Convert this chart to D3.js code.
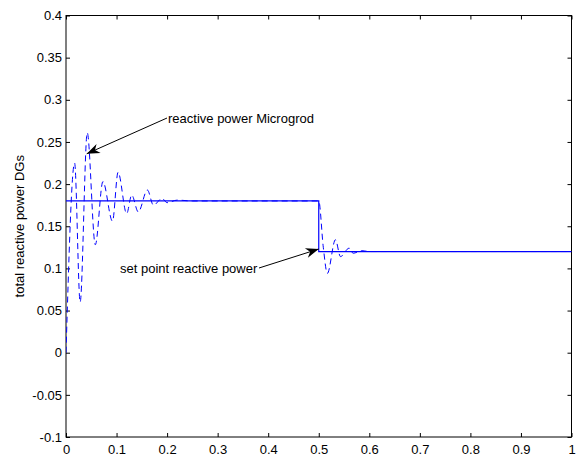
<!DOCTYPE html>
<html>
<head>
<meta charset="utf-8">
<script src="https://cdn.jsdelivr.net/npm/d3@7"></script>
<style>
  html, body { margin: 0; padding: 0; background: #fff; }
  svg { display: block; font-family: Arial, "Liberation Sans", sans-serif; }
</style>
</head>
<body>
<svg id="chart" width="576" height="459"></svg>
<script>
// ---- data ----
const xTicks = [0, 0.1, 0.2, 0.3, 0.4, 0.5, 0.6, 0.7, 0.8, 0.9, 1];
const yTicks = [-0.1, -0.05, 0, 0.05, 0.1, 0.15, 0.2, 0.25, 0.3, 0.35, 0.4];
const xTickLabels = ["0", "0.1", "0.2", "0.3", "0.4", "0.5", "0.6", "0.7", "0.8", "0.9", "1"];
const yTickLabels = ["-0.1", "-0.05", "0", "0.05", "0.1", "0.15", "0.2", "0.25", "0.3", "0.35", "0.4"];

const setpointT = [0, 0.5, 0.5, 1];
const setpointQ = [0.18, 0.18, 0.12, 0.12];

const measuredT = [0, 0.017, 0.028, 0.042, 0.058, 0.073, 0.092, 0.103, 0.120, 0.130, 0.143, 0.161, 0.173, 0.190, 0.200, 0.220, 0.250, 0.300, 0.400, 0.500, 0.509, 0.517, 0.533, 0.543, 0.560, 0.568, 0.585, 0.600, 0.700, 1.0];
const measuredQ = [0, 0.225, 0.060, 0.261, 0.128, 0.203, 0.156, 0.214, 0.165, 0.187, 0.167, 0.193, 0.175, 0.183, 0.178, 0.181, 0.180, 0.180, 0.180, 0.180, 0.125, 0.094, 0.134, 0.114, 0.124, 0.118, 0.121, 0.120, 0.120, 0.120];

const yLabel = "total reactive power DGs";
const annotations = [
  { text: "reactive power Microgrod", tx: 168, ty: 118, from: [167, 118], to: [0.041, 0.236] },
  { text: "set point reactive power", tx: 120, ty: 268, from: [259, 268], to: [0.5, 0.123] }
];

// ---- layout ----
const svg = d3.select("#chart");
const x0 = 66, x1 = 571.5, y0 = 15.5, y1 = 437;
const x = d3.scaleLinear().domain([0, 1]).range([x0, x1]);
const y = d3.scaleLinear().domain([-0.1, 0.4]).range([y1, y0]);

const fontSize = 13;
const blue = "#0000ff";

// box
svg.append("rect")
  .attr("x", x0).attr("y", y0).attr("width", x1 - x0).attr("height", y1 - y0)
  .attr("fill", "none").attr("stroke", "#000").attr("stroke-width", 1);

// axes with inward ticks
const tickLen = 4;
const axB = d3.axisBottom(x).tickValues(xTicks).tickSize(-tickLen).tickPadding(8)
  .tickFormat((d, i) => xTickLabels[i]);
const axT = d3.axisTop(x).tickValues(xTicks).tickSize(-tickLen).tickFormat("");
const axL = d3.axisLeft(y).tickValues(yTicks).tickSize(-tickLen).tickPadding(4)
  .tickFormat((d, i) => yTickLabels[i]);
const axR = d3.axisRight(y).tickValues(yTicks).tickSize(-tickLen).tickFormat("");

function styleAxis(g) {
  g.select(".domain").remove();
  g.selectAll(".tick line").attr("stroke", "#000");
  g.selectAll("text").attr("fill", "#000").attr("font-size", fontSize)
    .attr("font-family", "Arial, 'Liberation Sans', sans-serif");
}
svg.append("g").attr("transform", `translate(0,${y1})`).call(axB).call(styleAxis);
svg.append("g").attr("transform", `translate(0,${y0})`).call(axT).call(styleAxis);
svg.append("g").attr("transform", `translate(${x0},0)`).call(axL).call(styleAxis);
svg.append("g").attr("transform", `translate(${x1},0)`).call(axR).call(styleAxis);

// y label
svg.append("text")
  .attr("transform", `translate(24,${(y0 + y1) / 2}) rotate(-90)`)
  .attr("text-anchor", "middle")
  .attr("font-size", fontSize)
  .text(yLabel);

// clip
svg.append("clipPath").attr("id", "clip").append("rect")
  .attr("x", x0).attr("y", y0).attr("width", x1 - x0).attr("height", y1 - y0);

const plot = svg.append("g").attr("clip-path", "url(#clip)");

// set point line
const spData = setpointT.map((t, i) => [t, setpointQ[i]]);
plot.append("path")
  .datum(spData)
  .attr("fill", "none").attr("stroke", blue).attr("stroke-width", 1.2)
  .attr("d", d3.line().x(d => x(d[0])).y(d => y(d[1])));

// measured dashed line
const mData = measuredT.map((t, i) => [t, measuredQ[i]]);
plot.append("path")
  .datum(mData)
  .attr("fill", "none").attr("stroke", blue).attr("stroke-width", 1)
  .attr("stroke-dasharray", "6,4")
  .attr("d", d3.line().curve(d3.curveMonotoneX).x(d => x(d[0])).y(d => y(d[1])));

// arrow marker
const defs = svg.append("defs");
defs.append("marker")
  .attr("id", "arrow")
  .attr("viewBox", "-14 -6 16 12")
  .attr("refX", 0).attr("refY", 0)
  .attr("markerWidth", 16).attr("markerHeight", 12)
  .attr("markerUnits", "userSpaceOnUse")
  .attr("orient", "auto")
  .append("path")
  .attr("d", "M0,0 L-13,-5 L-9,0 L-13,5 Z")
  .attr("fill", "#000");

annotations.forEach(a => {
  svg.append("text")
    .attr("x", a.tx).attr("y", a.ty).attr("dy", "0.35em")
    .attr("font-size", fontSize).attr("fill", "#000")
    .text(a.text);
  svg.append("line")
    .attr("x1", a.from[0]).attr("y1", a.from[1])
    .attr("x2", x(a.to[0])).attr("y2", y(a.to[1]))
    .attr("stroke", "#000").attr("stroke-width", 1)
    .attr("marker-end", "url(#arrow)");
});
</script>
</body>
</html>
